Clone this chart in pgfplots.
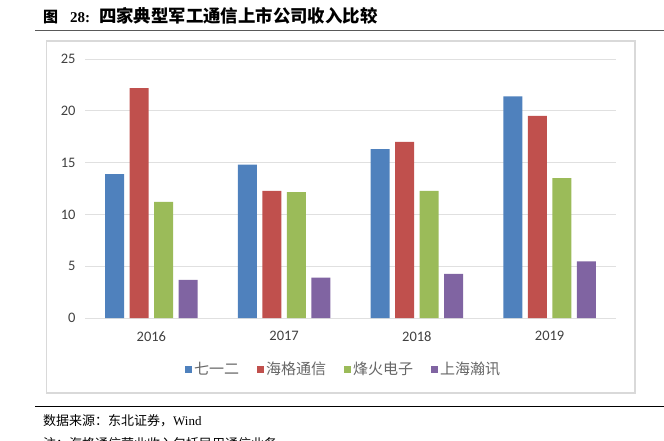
\documentclass[border=0pt]{standalone}
\usepackage{pgfplots}
\pgfplotsset{compat=1.18}
\usepackage{fontspec}
\setmainfont{Liberation Serif}
\newfontfamily\cjk{Noto Sans CJK SC}
\newfontfamily\tfont{Carlito}
\definecolor{c1}{HTML}{4F81BD}
\definecolor{c2}{HTML}{C0504D}
\definecolor{c3}{HTML}{9BBB59}
\definecolor{c4}{HTML}{8064A2}
\definecolor{tk}{HTML}{404040}
\begin{document}
\begin{tikzpicture}
\useasboundingbox (0pt,0pt) rectangle (664pt,-440pt);
% title
\node[anchor=west,inner sep=0] at (43pt,-16pt) {\fontsize{15}{17}\selectfont{\cjk\bfseries 图}\hspace{12pt}\textbf{28:}\hspace{9pt}{\cjk\fontsize{17.4}{18}\selectfont\bfseries 四家典型军工通信上市公司收入比较}};
\draw[line width=1.8pt,color=black!65] (35pt,-30.5pt) -- (664pt,-30.5pt);
% chart box
\draw[line width=1.2pt,color=black!15] (46.5pt,-41pt) rectangle (635pt,-393pt);
\begin{axis}[
  at={(85pt,-318pt)}, anchor=south west,
  scale only axis, width=531pt, height=259pt,
  xmin=-0.5, xmax=3.5, ymin=0, ymax=25,
  ybar=5.5pt, bar width=19pt,
  xtick={0,1,2,3}, xticklabels={2016,2017,2018,2019},
  ytick={0,5,10,15,20,25},
  /pgf/number format/assume math mode=true,
  axis line style={draw=none},
  major tick length=0pt,
  ymajorgrids, grid style={color=black!12, line width=0.9pt},
  ticklabel style={font=\tfont\fontsize{14.5}{15}\selectfont, text=tk},
  yticklabel style={xshift=-6pt},
  xticklabel style={yshift=-10pt},
  legend columns=4,
  legend style={at={(0.487,-0.197)}, anchor=center, draw=none, fill=none,
    font=\cjk\fontsize{15}{16}\selectfont, text=black!60,
    /tikz/every even column/.append style={column sep=16pt}},
  legend image code/.code={\fill[#1] (0pt,-3.5pt) rectangle (7pt,3.5pt);},
]
\addplot[fill=c1, draw=none] coordinates {(0,13.9) (1,14.8) (2,16.3) (3,21.4)};
\addplot[fill=c2, draw=none] coordinates {(0,22.2) (1,12.26) (2,17.0) (3,19.5)};
\addplot[fill=c3, draw=none] coordinates {(0,11.2) (1,12.16) (2,12.26) (3,13.5)};
\addplot[fill=c4, draw=none] coordinates {(0,3.67) (1,3.9) (2,4.25) (3,5.47)};
\legend{七一二,海格通信,烽火电子,上海瀚讯}
\end{axis}
% source
\draw[line width=0.9pt,color=black] (35pt,-406pt) -- (664pt,-406pt);
\node[anchor=west,inner sep=0] at (43pt,-421pt) {\fontsize{13}{15}\selectfont{\cjk 数据来源：东北证券，}Wind};
\node[anchor=west,inner sep=0] at (43pt,-444pt) {\fontsize{13}{15}\selectfont{\cjk 注：海格通信营业收入包括民用通信业务}};
\end{tikzpicture}
\end{document}
